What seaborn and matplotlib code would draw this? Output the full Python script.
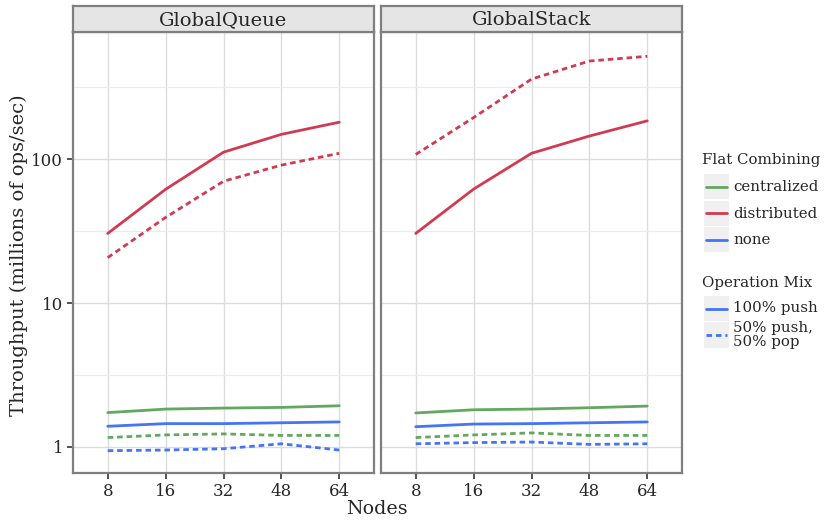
import numpy as np
import pandas as pd
import seaborn as sns
import matplotlib
matplotlib.use("Agg")
import matplotlib.pyplot as plt
from matplotlib.patches import Rectangle
from matplotlib.lines import Line2D

nodes = ["8", "16", "32", "48", "64"]
panels = ["GlobalQueue", "GlobalStack"]
combining = ["centralized", "distributed", "none"]
mixes = ["100% push", "50% push, 50% pop"]

# GlobalQueue
q_central_100 = [1.73, 1.83, 1.86, 1.88, 1.93]
q_central_50 = [1.16, 1.21, 1.23, 1.20, 1.20]
q_dist_100 = [30.5, 61.8, 112, 149, 181]
q_dist_50 = [20.7, 39.4, 70.3, 91, 110]
q_none_100 = [1.39, 1.45, 1.45, 1.47, 1.49]
q_none_50 = [0.94, 0.95, 0.97, 1.05, 0.95]
# GlobalStack
s_central_100 = [1.72, 1.81, 1.83, 1.87, 1.92]
s_central_50 = [1.16, 1.21, 1.25, 1.20, 1.20]
s_dist_100 = [30.5, 62, 110, 145, 185]
s_dist_50 = [108, 195, 361, 482, 520]
s_none_100 = [1.38, 1.44, 1.45, 1.47, 1.49]
s_none_50 = [1.05, 1.07, 1.08, 1.04, 1.05]

series = {
    ("GlobalQueue", "centralized", "100% push"): q_central_100,
    ("GlobalQueue", "centralized", "50% push, 50% pop"): q_central_50,
    ("GlobalQueue", "distributed", "100% push"): q_dist_100,
    ("GlobalQueue", "distributed", "50% push, 50% pop"): q_dist_50,
    ("GlobalQueue", "none", "100% push"): q_none_100,
    ("GlobalQueue", "none", "50% push, 50% pop"): q_none_50,
    ("GlobalStack", "centralized", "100% push"): s_central_100,
    ("GlobalStack", "centralized", "50% push, 50% pop"): s_central_50,
    ("GlobalStack", "distributed", "100% push"): s_dist_100,
    ("GlobalStack", "distributed", "50% push, 50% pop"): s_dist_50,
    ("GlobalStack", "none", "100% push"): s_none_100,
    ("GlobalStack", "none", "50% push, 50% pop"): s_none_50,
}
rows = []
for (p, fc, mx), vals in series.items():
    for i, (n, v) in enumerate(zip(nodes, vals)):
        rows.append(dict(panel=p, fc=fc, mix=mx, xi=i, nodes=n, tput=v))
df = pd.DataFrame(rows)

sns.set_style("white")
plt.rcParams["font.family"] = ["DejaVu Serif"]

palette = {"centralized": "#62A85F", "distributed": "#D13B52", "none": "#4574F4"}
dashes = {"100% push": "", "50% push, 50% pop": (2.0, 1.4)}

W, H = 831, 522
fig = plt.figure(figsize=(W / 100, H / 100), dpi=100)

def fx(px):
    return px / W

def fy(py):
    return 1 - py / H

panel_px = [(73, 374), (381, 682)]
top_px, bot_px, strip_top = 32, 473, 6
frame_col = "#7F7F7F"
grid_col = "#DCDCDC"
minor_col = "#EBEBEB"

ymin, ymax = 10 ** (-0.182), 10 ** 2.885

for k, (p, (l, r)) in enumerate(zip(panels, panel_px)):
    ax = fig.add_axes([fx(l), fy(bot_px), fx(r - l), (bot_px - top_px) / H])
    sub = df[df.panel == p]
    sns.lineplot(data=sub, x="xi", y="tput", hue="fc", style="mix",
                 palette=palette, dashes=dashes, hue_order=combining,
                 style_order=mixes, linewidth=2.0, ax=ax, legend=False)
    ax.set_yscale("log")
    ax.set_xticks(range(len(nodes)))
    ax.set_xticklabels(nodes)
    ax.set_yticks([1, 10, 100])
    ax.set_yticks([10 ** -0.5, 10 ** 0.5, 10 ** 1.5, 10 ** 2.5], minor=True)
    ax.set_yticklabels(["1", "10", "100"])
    ax.yaxis.set_minor_formatter(matplotlib.ticker.NullFormatter())
    ax.set_ylim(ymin, ymax)
    ax.set_xlim(-0.6, 4.6)
    ax.set_axisbelow(True)
    ax.grid(True, which="major", color=grid_col, linewidth=1.0)
    ax.grid(True, which="minor", axis="y", color=minor_col, linewidth=0.8)
    for s in ax.spines.values():
        s.set_color(frame_col)
        s.set_linewidth(1.6)
    ax.tick_params(axis="both", which="major", length=4, width=1.2, color="#333333",
                   labelsize=12, pad=3, direction="out", bottom=True, left=(k == 0))
    ax.tick_params(axis="y", which="minor", length=0)
    if k == 1:
        ax.set_yticklabels([])
        ax.tick_params(axis="y", which="major", length=0)
    ax.set_xlabel("")
    ax.set_ylabel("")
    # strip
    sax = fig.add_axes([fx(l), fy(top_px), fx(r - l), (top_px - strip_top) / H])
    sax.set_xticks([]); sax.set_yticks([])
    sax.set_facecolor("#E5E5E5")
    for s in sax.spines.values():
        s.set_color(frame_col)
        s.set_linewidth(1.6)
    sax.text(0.5, 0.45, p, ha="center", va="center", fontsize=14, transform=sax.transAxes)

fig.text(fx(377), fy(509), "Nodes", ha="center", va="center", fontsize=13.7)
fig.text(fx(19), fy(255), "Throughput (millions of ops/sec)", ha="center", va="center",
         rotation=90, fontsize=14)

# legend
def key(y0, y1, color, dashed):
    fig.add_artist(Rectangle((fx(704), fy(y1)), fx(25), (y1 - y0) / H,
                             transform=fig.transFigure, facecolor="#F0F0F0", edgecolor="none"))
    ym = fy((y0 + y1) / 2)
    ln = Line2D([fx(706), fx(727)], [ym, ym], transform=fig.transFigure, color=color,
                linewidth=2.0, linestyle=(0, (2.0, 1.4)) if dashed else "-")
    fig.add_artist(ln)

fs = 10.8
fig.text(fx(702), fy(160), "Flat Combining", ha="left", va="center", fontsize=fs)
for i, c in enumerate(combining):
    y0 = 174 + 26.5 * i
    key(y0, y0 + 25, palette[c], False)
    fig.text(fx(733), fy(y0 + 13), c, ha="left", va="center", fontsize=fs)

fig.text(fx(702), fy(283), "Operation Mix", ha="left", va="center", fontsize=fs)
key(296, 321, palette["none"], False)
fig.text(fx(733), fy(308), "100% push", ha="left", va="center", fontsize=fs)
key(322, 348, palette["none"], True)
fig.text(fx(733), fy(335), "50% push,\n50% pop", ha="left", va="center", fontsize=fs,
         linespacing=1.0)

fig.savefig("out.png", dpi=100)
